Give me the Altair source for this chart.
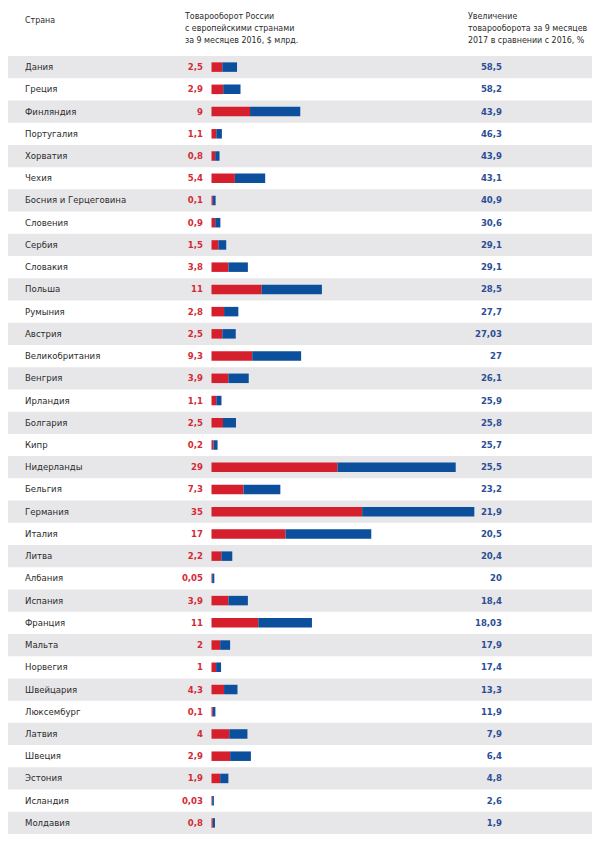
import altair as alt
import pandas as pd

countries = ["Дания", "Греция", "Финляндия", "Португалия", "Хорватия", "Чехия",
             "Босния и Герцеговина", "Словения", "Сербия", "Словакия", "Польша",
             "Румыния", "Австрия", "Великобритания", "Венгрия", "Ирландия",
             "Болгария", "Кипр", "Нидерланды", "Бельгия", "Германия", "Италия",
             "Литва", "Албания", "Испания", "Франция", "Мальта", "Норвегия",
             "Швейцария", "Люксембург", "Латвия", "Швеция", "Эстония",
             "Исландия", "Молдавия"]
trade_2016_labels = ["2,5", "2,9", "9", "1,1", "0,8", "5,4", "0,1", "0,9", "1,5", "3,8",
                     "11", "2,8", "2,5", "9,3", "3,9", "1,1", "2,5", "0,2", "29", "7,3",
                     "35", "17", "2,2", "0,05", "3,9", "11", "2", "1", "4,3", "0,1",
                     "4", "2,9", "1,9", "0,03", "0,8"]
growth_labels = ["58,5", "58,2", "43,9", "46,3", "43,9", "43,1", "40,9", "30,6", "29,1",
                 "29,1", "28,5", "27,7", "27,03", "27", "26,1", "25,9", "25,8", "25,7",
                 "25,5", "23,2", "21,9", "20,5", "20,4", "20", "18,4", "18,03", "17,9",
                 "17,4", "13,3", "11,9", "7,9", "6,4", "4,8", "2,6", "1,9"]
# bar segment lengths ($ bn)
red_len = [2.5, 2.7, 8.9, 1.1, 0.85, 5.4, 0.3, 0.85, 1.6, 3.9, 11.6, 2.9, 2.5, 9.4, 3.9,
           1.1, 2.65, 0.45, 29.1, 7.4, 34.8, 17.1, 2.3, 0.15, 3.9, 10.8, 2.0, 1.06, 2.9,
           0.3, 4.1, 4.3, 2.0, 0.15, 0.3]
blue_len = [3.4, 4.0, 11.6, 1.3, 1.0, 7.0, 0.65, 1.2, 1.8, 4.5, 13.9, 3.3, 3.1, 11.3, 4.7,
            1.2, 3.0, 0.95, 27.3, 8.5, 25.9, 19.8, 2.5, 0.5, 4.5, 12.4, 2.3, 1.15, 3.1,
            0.6, 4.2, 4.8, 1.9, 0.4, 0.5]

header_1 = "Страна"
header_2 = "Товарооборот России\nс европейскими странами\nза 9 месяцев 2016, $ млрд."
header_3 = "Увеличение\nтоварооборота за 9 месяцев\n2017 в сравнении с 2016, %"

df = pd.DataFrame({
    "country": countries,
    "lab16": trade_2016_labels,
    "growth": growth_labels,
    "red": red_len,
    "blue": blue_len,
})
df["idx"] = range(len(df))
df["even"] = df["idx"] % 2 == 0
df["total"] = df["red"] + df["blue"]

FONT = "Liberation Sans Narrow, DejaVu Sans Condensed, sans-serif"
W, H = 584, 828
yscale = alt.Scale(domain=countries, range=[48, 826], paddingInner=0, paddingOuter=0)
X0 = 203.5
xscale = alt.Scale(domain=[0, 60], range=[X0, X0 + 60 * 4.33])
Y = alt.Y("country:N", scale=yscale, axis=None, sort=countries)

base = alt.Chart(df)

bands = base.transform_filter("datum.even").mark_rect(color="#e7e7e9").encode(
    y=Y, x=alt.value(0), x2=alt.value(W))

red_bar = base.mark_bar(color="#d61f2c", height=9.5).encode(
    y=Y, x=alt.X("red:Q", scale=xscale, axis=None), x2=alt.value(X0))
blue_bar = base.mark_bar(color="#0b4f9d", height=9.5).encode(
    y=Y, x=alt.X("red:Q", scale=xscale, axis=None), x2="total:Q")

names = base.mark_text(align="left", baseline="middle", font=FONT, fontSize=9.5,
                       color="#2b2b2b").encode(y=Y, x=alt.value(17), text="country:N")
v16 = base.mark_text(align="right", baseline="middle", font=FONT, fontSize=9.5,
                     fontWeight="bold", color="#d42a36").encode(
    y=Y, x=alt.value(195), text="lab16:N")
vg = base.mark_text(align="right", baseline="middle", font=FONT, fontSize=9.5,
                    fontWeight="bold", color="#2b4e96").encode(
    y=Y, x=alt.value(494), text="growth:N")

hdr = pd.DataFrame({"t": [header_1, header_2, header_3], "x": [17, 177, 460],
                    "y": [8, 4, 4]})
hscale_x = alt.Scale(domain=[0, W], range=[0, W])
hscale_y = alt.Scale(domain=[0, H], range=[0, H])
headers = alt.Chart(hdr).mark_text(align="left", baseline="top", font=FONT, fontSize=8.8,
                                   color="#2b2b2b", lineBreak="\n", lineHeight=12).encode(
    x=alt.X("x:Q", scale=hscale_x, axis=None),
    y=alt.Y("y:Q", scale=hscale_y, axis=None),
    text="t:N")

chart = alt.layer(bands, red_bar, blue_bar, names, v16, vg, headers).properties(
    width=W, height=H, padding=0, autosize=alt.AutoSizeParams(type="none")
).configure_view(stroke=None).resolve_scale(x="independent", y="independent")

chart.save("out.html", embed_options={"renderer": "svg", "actions": False})
